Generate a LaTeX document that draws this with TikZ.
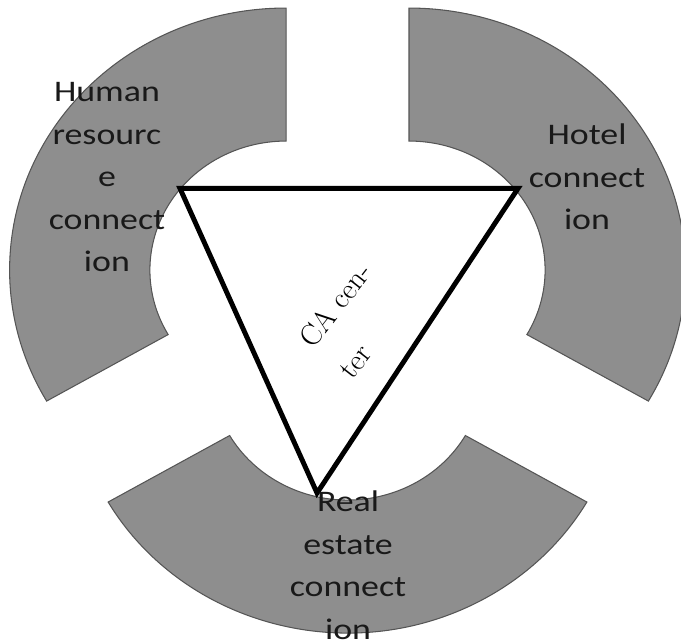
\documentclass[tikz,border=0pt]{standalone}
\usepackage{fontspec}
\newfontfamily\labelfont[FakeStretch=1.2]{Carlito}
\usepackage{tikz}
\usetikzlibrary{calc}
\definecolor{sectorgray}{RGB}{142,142,142}
\definecolor{sectoredge}{RGB}{85,85,85}

\begin{document}
\begin{tikzpicture}[x=0.0211cm, y=0.02cm,
    sector/.style={fill=sectorgray, draw=sectoredge, line width=0.6pt},
    blocklabel/.style={font=\labelfont\fontsize{17}{24.2}\selectfont, text=black!90, align=center, inner sep=0pt},
    centerlabel/.style={font=\fontsize{17}{28.5}\selectfont, align=left, rotate=52, inner sep=0pt}]
    \useasboundingbox (-329.4,-338.3) rectangle (316.1,303.7);
    \coordinate (O) at (0,0);

    % 三个扇环的圆心
    \coordinate (cL) at (150:67.3);
    \coordinate (cR) at (30:67.3);
    \coordinate (cB) at (270:67.3);

    % 绘制三个扇环
    \draw[sector] ($(cL)+(90:262)$) arc[start angle=90, end angle=210, radius=262]
        -- ($(cL)+(210:129)$) arc[start angle=210, end angle=90, radius=129] -- cycle;
    \draw[sector] ($(cR)+(-30:262)$) arc[start angle=-30, end angle=90, radius=262]
        -- ($(cR)+(90:129)$) arc[start angle=90, end angle=-30, radius=129] -- cycle;
    \draw[sector] ($(cB)+(210:262)$) arc[start angle=210, end angle=330, radius=262]
        -- ($(cB)+(330:129)$) arc[start angle=330, end angle=210, radius=129] -- cycle;

    % 绘制三角形
    \coordinate (A) at (-158.8,115.3);
    \coordinate (B) at (161.6,115.3);
    \coordinate (C) at (-28.9,-189.3);
    \draw[line width=2.8pt, fill=white] (A) -- (B) -- (C) -- cycle;

    % 文字
    \node[centerlabel] (ca) at (6.9,-16.3) {CA cen-\\ter};
    \node[blocklabel] (hr) at (-228,126.3) {Human\\resourc\\e\\connect\\ion};
    \node[blocklabel] (hotel) at (227,126.7) {Hotel\\connect\\ion};
    \node[blocklabel] (realestate) at (0.5,-261.3) {Real\\estate\\connect\\ion};
\end{tikzpicture}
\end{document}
